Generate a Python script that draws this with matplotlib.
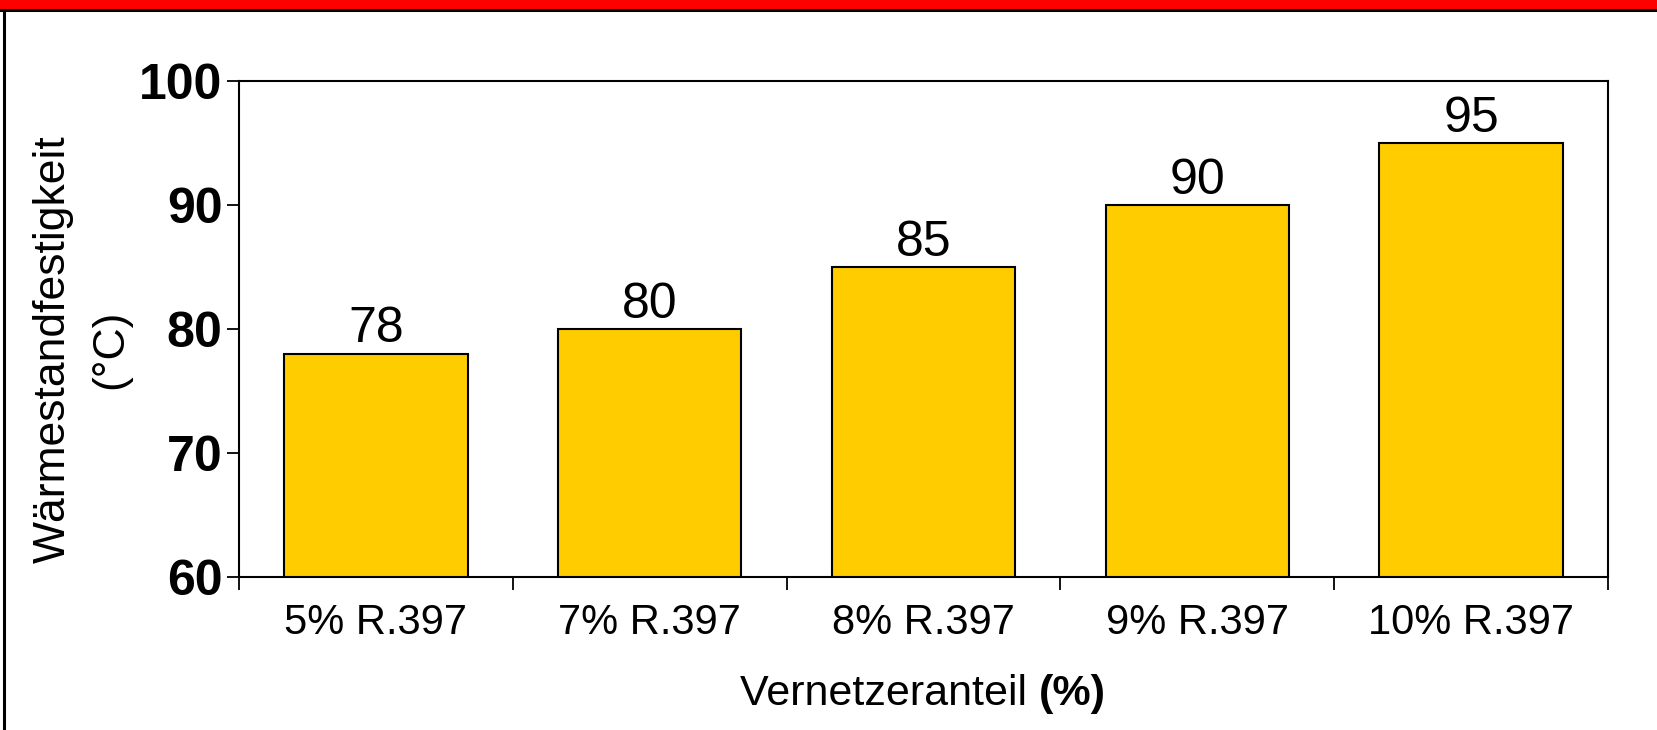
import matplotlib.pyplot as plt
from matplotlib.patches import Rectangle
from matplotlib.lines import Line2D

categories = ['5% R.397', '7% R.397', '8% R.397', '9% R.397', '10% R.397']
values = [78, 80, 85, 90, 95]
y_ticks = [60, 70, 80, 90, 100]

plt.rcParams['font.family'] = ['Liberation Sans', 'DejaVu Sans']

W, H = 1657, 730
fig = plt.figure(figsize=(W / 100, H / 100), dpi=100)

# frame: red band on top, black lines
fig.patches.append(Rectangle((0, 1 - 9 / H), 1, 9 / H, transform=fig.transFigure,
                             facecolor='#ff0000', edgecolor='none', zorder=0))
fig.lines.append(Line2D([0, 1], [1 - 9.5 / H, 1 - 9.5 / H], transform=fig.transFigure,
                        color='black', linewidth=2.2))
fig.lines.append(Line2D([4 / W, 4 / W], [0, 1 - 9.5 / H], transform=fig.transFigure,
                        color='black', linewidth=2.2))

left, right, top, bottom = 239, 1608, 81, 577
ax = fig.add_axes([left / W, 1 - bottom / H, (right - left) / W, (bottom - top) / H])

x = list(range(len(categories)))
bars = ax.bar(x, values, width=0.67, bottom=0, color='#ffcc00', edgecolor='black', linewidth=1.5)
ax.bar_label(bars, labels=[str(v) for v in values], fontsize=36, padding=1)

ax.set_xlim(-0.5, len(categories) - 0.5)
ax.set_ylim(60, 100)
ax.set_yticks(y_ticks)
ax.set_yticklabels([str(t) for t in y_ticks], fontsize=36, fontweight='bold')
ax.tick_params(axis='y', direction='out', length=9, width=1.3, pad=3)

ax.set_xticks(x)
ax.set_xticklabels(categories, fontsize=30)
ax.tick_params(axis='x', length=0, pad=19)
ax.set_xticks([i - 0.5 for i in range(len(categories) + 1)], minor=True)
ax.tick_params(axis='x', which='minor', direction='out', length=9, width=1.3)

for s in ax.spines.values():
    s.set_linewidth(1.5)

fig.text(53 / W, 1 - 349 / H, 'Wärmestandfestigkeit', rotation=90, ha='center', va='center', fontsize=32)
fig.text(111 / W, 1 - 349 / H, '(°C)', rotation=90, ha='center', va='center', fontsize=32)

t1 = fig.text(740 / W, 1 - 694 / H, 'Vernetzeranteil ', ha='left', va='center', fontsize=31)
ax.annotate('(%)', xy=(1, 0), xycoords=t1, ha='left', va='bottom', fontsize=31, fontweight='bold')

fig.savefig('out.png', dpi=100)
